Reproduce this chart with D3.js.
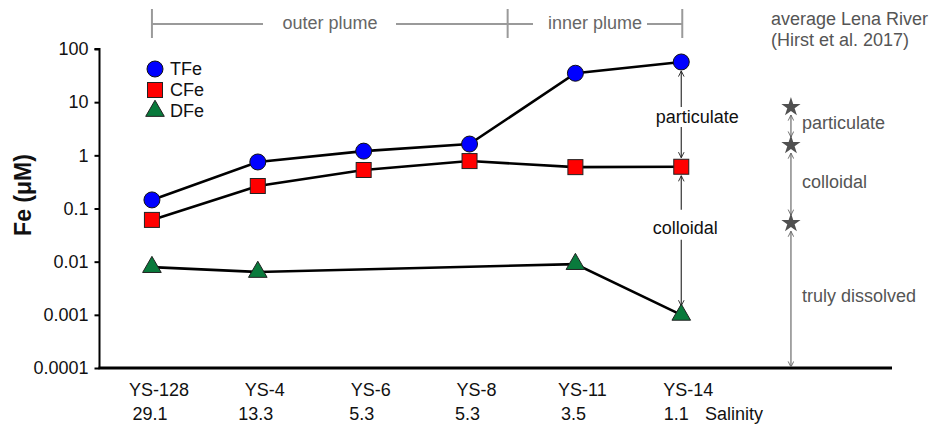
<!DOCTYPE html>
<html><head><meta charset="utf-8">
<script src="https://cdn.jsdelivr.net/npm/d3@7/dist/d3.min.js"></script>
<style>body{margin:0;background:#fff}svg{display:block;font-family:"Liberation Sans",Arial,sans-serif}</style>
</head><body><svg id="c" width="931" height="429"></svg>
<script>
const stations = ["YS-128","YS-4","YS-6","YS-8","YS-11","YS-14"];
const salinity = ["29.1","13.3","5.3","5.3","3.5","1.1"];
const TFe = [0.145, 0.75, 1.2, 1.63, 35, 57];
const CFe = [0.061, 0.265, 0.53, 0.78, 0.60, 0.61];
const DFe = [0.0079, 0.0064, null, null, 0.0090, 0.00100];
const yTicks = [0.0001, 0.001, 0.01, 0.1, 1, 10, 100];
const yTickLabels = ["0.0001","0.001","0.01","0.1","1","10","100"];
const lenaValues = [8.1, 1.56, 0.053];
const lenaPos = 6.036;
const plumeBoundary = 3.36;

const FS = 18;
const svg = d3.select("#c");
const x = d3.scaleLinear().domain([-0.5, 7]).range([99, 893]);
const y = d3.scaleLog().domain([1e-4, 100]).range([368, 49]);

// axes
const yAxis = d3.axisLeft(y).tickValues(yTicks).tickFormat((d,i)=>yTickLabels[i]).tickSize(5).tickPadding(6);
const gy = svg.append("g").attr("transform","translate(99.5,0)").call(yAxis);
gy.select(".domain").attr("stroke","#000").attr("stroke-width",2).attr("d","M-5,49H0V369");
gy.selectAll(".tick line").attr("stroke","#000").attr("stroke-width",2);
gy.selectAll(".tick text").attr("font-size",FS).attr("fill","#111").attr("font-family","Liberation Sans, Arial, sans-serif");

svg.append("line").attr("x1",98.5).attr("x2",892).attr("y1",368).attr("y2",368).attr("stroke","#000").attr("stroke-width",2.8);

// x labels
svg.selectAll("text.st").data(stations).join("text").attr("class","st")
  .attr("x",(d,i)=>x(i)+7).attr("y",396).attr("text-anchor","middle").attr("font-size",FS).attr("fill","#111").text(d=>d);
svg.selectAll("text.sal").data(salinity).join("text").attr("class","sal")
  .attr("x",(d,i)=>x(i)+(i===5?-5:-2)).attr("y",420).attr("text-anchor","middle").attr("font-size",FS).attr("fill","#111").text(d=>d);
svg.append("text").attr("x",705).attr("y",420).attr("font-size",FS).attr("fill","#111").text("Salinity");

// y label
svg.append("text").attr("transform","translate(31,195) rotate(-90)").attr("text-anchor","middle")
  .attr("font-size",23).attr("font-weight","bold").attr("fill","#111").text("Fe (μM)");

// lines
const line = d3.line().x(d=>x(d.i)).y(d=>y(d.v));
function series(arr){return arr.map((v,i)=>({i,v})).filter(d=>d.v!=null);}
[TFe,CFe,DFe].forEach(arr=>{
  svg.append("path").attr("d",line(series(arr))).attr("fill","none").attr("stroke","#000").attr("stroke-width",2.6);
});

// arrow markers
const defs = svg.append("defs");
function marker(id,color){
  defs.append("marker").attr("id",id).attr("viewBox","0 0 10 10").attr("refX",9).attr("refY",5)
   .attr("markerWidth",7).attr("markerHeight",7).attr("markerUnits","userSpaceOnUse").attr("orient","auto-start-reverse")
   .append("path").attr("d","M1,1L9,5L1,9").attr("fill","none").attr("stroke",color).attr("stroke-width",1.3);
}
marker("ab","#222"); marker("ag","#666");

// YS-14 arrows
const x5 = x(5);
function varrow(xx,y1,y2,color,startM,endM){
  const l = svg.append("line").attr("x1",xx).attr("x2",xx).attr("y1",y1).attr("y2",y2).attr("stroke",color).attr("stroke-width",1.2);
  if(startM) l.attr("marker-start",`url(#${startM})`);
  if(endM) l.attr("marker-end",`url(#${endM})`);
}
varrow(x5, y(TFe[5])+9, y(TFe[5])+45, "#333","ab",null);
varrow(x5, y(TFe[5])+65, y(CFe[5])-9, "#333",null,"ab");
varrow(x5, y(CFe[5])+9, y(CFe[5])+43, "#333","ab",null);
varrow(x5, y(CFe[5])+73, y(DFe[5])-9, "#333",null,"ab");
svg.append("text").attr("x",x5+16).attr("y",123).attr("text-anchor","middle").attr("font-size",FS).attr("fill","#111").text("particulate");
svg.append("text").attr("x",x5+4).attr("y",234).attr("text-anchor","middle").attr("font-size",FS).attr("fill","#111").text("colloidal");

// markers
svg.selectAll("circle.t").data(series(TFe)).join("circle").attr("class","t")
  .attr("cx",d=>x(d.i)).attr("cy",d=>y(d.v)).attr("r",8).attr("fill","#0000ff").attr("stroke","#111").attr("stroke-width",1);
svg.selectAll("rect.c").data(series(CFe)).join("rect").attr("class","c")
  .attr("x",d=>x(d.i)-7.5).attr("y",d=>y(d.v)-7.5).attr("width",15).attr("height",15).attr("fill","#ff0000").attr("stroke","#222").attr("stroke-width",1);
const tri = d3.symbol().type(d3.symbolTriangle).size(150);
svg.selectAll("path.d").data(series(DFe)).join("path").attr("class","d")
  .attr("transform",d=>`translate(${x(d.i)},${y(d.v)})`).attr("d",tri).attr("fill","#097a3c").attr("stroke","#222").attr("stroke-width",1);

// legend
const lg = [{n:"TFe",t:"c"},{n:"CFe",t:"s"},{n:"DFe",t:"t"}];
lg.forEach((d,i)=>{
  const cy = 69 + i*21, cx = 155;
  if(d.t==="c") svg.append("circle").attr("cx",cx).attr("cy",cy).attr("r",8).attr("fill","#0000ff").attr("stroke","#111");
  if(d.t==="s") svg.append("rect").attr("x",cx-7.5).attr("y",cy-7.5).attr("width",15).attr("height",15).attr("fill","#ff0000").attr("stroke","#222");
  if(d.t==="t") svg.append("path").attr("transform",`translate(${cx},${cy})`).attr("d",tri).attr("fill","#097a3c").attr("stroke","#222");
  svg.append("text").attr("x",170).attr("y",cy+6).attr("font-size",FS).attr("fill","#111").text(d.n);
});

// top bracket
const g = "#9a9a9a";
function hl(a,b){svg.append("line").attr("x1",a).attr("x2",b).attr("y1",24).attr("y2",24).attr("stroke",g).attr("stroke-width",2);}
function vl(a){svg.append("line").attr("x1",a).attr("x2",a).attr("y1",9).attr("y2",38).attr("stroke",g).attr("stroke-width",2);}
const xB = x(plumeBoundary);
hl(x(0),263); hl(396,xB); hl(xB,533); hl(647,x(5)+1);
vl(x(0)); vl(xB); vl(x(5)+1);
svg.append("text").attr("x",330).attr("y",29).attr("text-anchor","middle").attr("font-size",FS).attr("fill","#666").text("outer plume");
svg.append("text").attr("x",595).attr("y",29).attr("text-anchor","middle").attr("font-size",FS).attr("fill","#666").text("inner plume");

// Lena River
svg.append("text").attr("x",771).attr("y",25).attr("font-size",FS).attr("fill","#555").text("average Lena River");
svg.append("text").attr("x",771).attr("y",46).attr("font-size",FS).attr("fill","#555").text("(Hirst et al. 2017)");
const lx = x(lenaPos);
const lyv = lenaValues.map(v=>y(v)).concat([y(1e-4)]);
for(let k=0;k<3;k++){
  svg.append("line").attr("x1",lx).attr("x2",lx).attr("y1",lyv[k]+8).attr("y2",lyv[k+1]-(k<2?8:1))
   .attr("stroke","#777").attr("stroke-width",1.3).attr("marker-start","url(#ag)").attr("marker-end","url(#ag)");
}
const star = d3.symbol().type(d3.symbolStar).size(115);
svg.selectAll("path.star").data(lenaValues).join("path").attr("class","star")
  .attr("transform",d=>`translate(${lx},${y(d)})`).attr("d",star).attr("fill","#505050");
svg.append("text").attr("x",802).attr("y",129).attr("font-size",FS).attr("fill","#555").text("particulate");
svg.append("text").attr("x",802).attr("y",188).attr("font-size",FS).attr("fill","#555").text("colloidal");
svg.append("text").attr("x",802).attr("y",302).attr("font-size",FS).attr("fill","#555").text("truly dissolved");
</script></body></html>
